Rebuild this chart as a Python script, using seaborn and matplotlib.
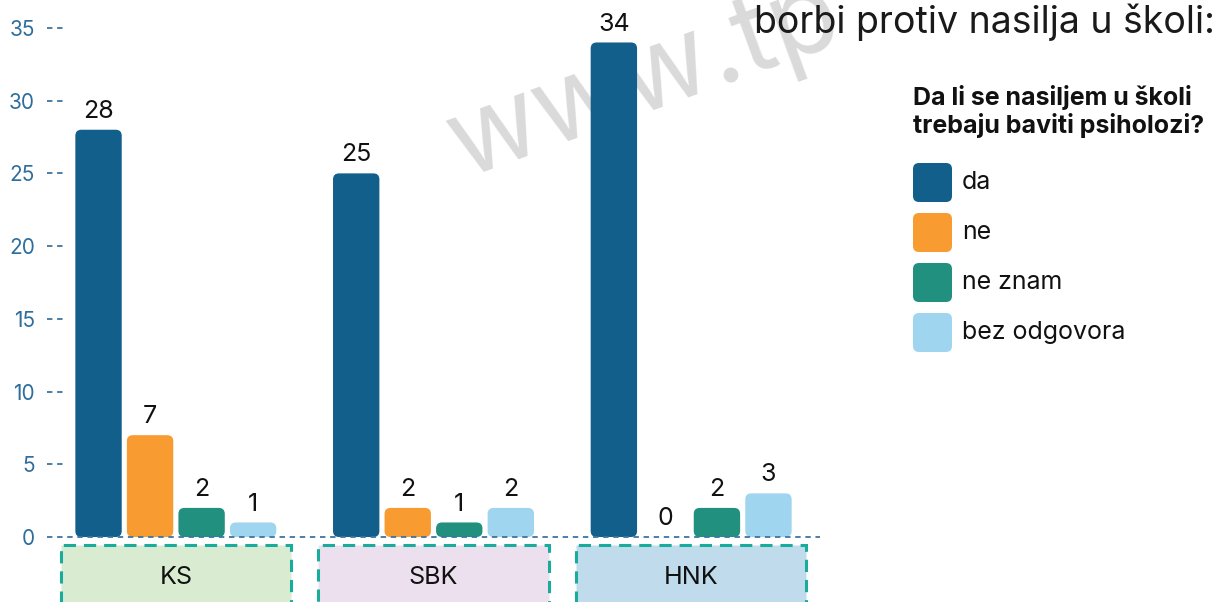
import numpy as np
import pandas as pd
import matplotlib.pyplot as plt
import matplotlib.transforms as mtransforms
from matplotlib.patches import FancyBboxPatch, Rectangle
import seaborn as sns

# Data
regions = ["KS", "SBK", "HNK"]
answers = ["da", "ne", "ne znam", "bez odgovora"]
da = [28, 25, 34]
ne = [7, 2, 0]
ne_znam = [2, 1, 2]
bez_odgovora = [1, 2, 3]
yticks = [0, 5, 10, 15, 20, 25, 30, 35]

answer_colors = ["#135f8b", "#f89b31", "#21907f", "#9fd5ee"]
region_colors = ["#d9ecd1", "#ece0ef", "#bfdbec"]

legend_title = "Da li se nasiljem u školi\ntrebaju baviti psiholozi?"
title = "borbi protiv nasilja u školi:"
watermark = "www.tp"

df = pd.DataFrame({
    "regija": regions * 4,
    "odgovor": np.repeat(answers, len(regions)),
    "broj": da + ne + ne_znam + bez_odgovora,
})

sns.set_style("white")
plt.rcParams["font.family"] = ["Inter", "DejaVu Sans"]

W, H = 1231, 602
fig = plt.figure(figsize=(W / 100, H / 100), dpi=100)
ax = fig.add_axes([47 / W, 1 - 537 / H, 773 / W, 537 / H])
ax.set_facecolor("none")

sns.barplot(data=df, x="regija", y="broj", hue="odgovor", order=regions,
            hue_order=answers, palette=answer_colors, saturation=1, width=0.8,
            gap=0.1, errorbar=None, legend=False, ax=ax)

ymax = 537 / 14.545
ax.set_xlim(-0.5, 2.5)
ax.set_ylim(0, ymax)

# swap plain bars for rounded ones
px_x = 773 / 3.0
px_y = 537 / ymax
radius = 6 / px_x
bars = list(ax.patches)
for rect in bars:
    x, w, h = rect.get_x(), rect.get_width(), rect.get_height()
    color = rect.get_facecolor()
    rect.remove()
    if h > 0:
        ax.add_patch(FancyBboxPatch((x, 0), w, h,
                                    boxstyle=f"round,pad=0,rounding_size={radius}",
                                    mutation_aspect=px_x / px_y,
                                    facecolor=color, edgecolor="none", zorder=2))
    ax.annotate(f"{h:.0f}", (x + w / 2, h), xytext=(0, 5), textcoords="offset points",
                ha="center", va="bottom", fontsize=18, color="#111111", zorder=3)

# dashed baseline and dashed tick marks
ax.axhline(0, color="#3f73a0", lw=1.3, ls=(0, (3, 2.6)), clip_on=False, zorder=4)
ax.hlines(yticks[1:], 0, 17 / 773, transform=ax.get_yaxis_transform(),
          color="#3f73a0", lw=1.3, ls=(0, (3, 2.6)))

ax.set_yticks(yticks)
ax.tick_params(axis="y", length=0, pad=8.6, labelsize=15, labelcolor="#2f6e9c")
ax.set_xticks([])
ax.set_xlabel("")
ax.set_ylabel("")
sns.despine(ax=ax, left=True, bottom=True)

# region boxes under the groups
trans = mtransforms.blended_transform_factory(ax.transData, ax.transAxes)
for i, reg in enumerate(regions):
    ax.add_patch(Rectangle((i - 0.447, -0.2), 0.894, 0.2 - 8 / 537, transform=trans,
                           facecolor=region_colors[i], edgecolor="#19ab9c", lw=2.2,
                           ls=(0, (4, 2.6)), clip_on=False, zorder=1))
    ax.text(i, -41 / 537, reg, transform=trans, ha="center", va="center",
            fontsize=18, color="#111111")

# watermark
ax.text(462 / W, 1 - 178 / H, watermark, transform=fig.transFigure, rotation=20,
        rotation_mode="anchor", ha="left", va="baseline", fontsize=80,
        color="#dadada", zorder=0.5, clip_on=False)

# title (top line is cut off in the source)
fig.text(1215 / W, 1 - 33 / H, title, ha="right", va="baseline", fontsize=27,
         color="#1a1a1a")

# legend drawn by hand with rounded squares
fig.text(913 / W, 1 - 85 / H, legend_title, ha="left", va="top", fontsize=18,
         fontweight="bold", color="#111111", linespacing=1.15)
for i, (lab, col) in enumerate(zip(answers, answer_colors)):
    yc = 182.5 + 50 * i
    fig.add_artist(FancyBboxPatch((9.13, (H - yc - 19.5) / 100), 0.39, 0.39,
                                  boxstyle="round,pad=0,rounding_size=0.06",
                                  transform=fig.dpi_scale_trans,
                                  facecolor=col, edgecolor="none"))
    fig.text(962 / W, 1 - yc / H, lab, ha="left", va="center", fontsize=18,
             color="#111111")

fig.savefig("out.png", dpi=100)
